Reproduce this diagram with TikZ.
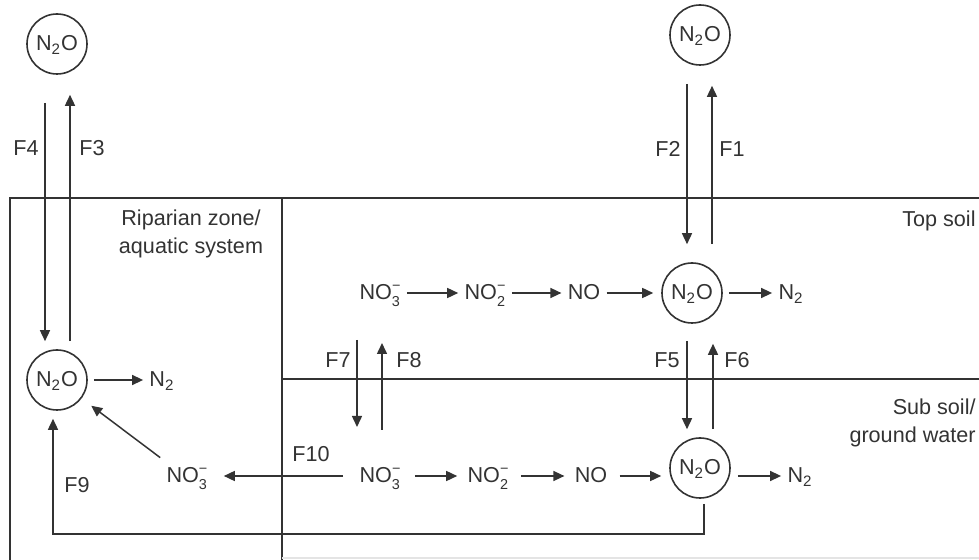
\documentclass[tikz,border=0pt]{standalone}
\usepackage{fontspec}
\setmainfont{Liberation Sans}
\usepackage{xcolor}
\usepackage{tikz}
\usetikzlibrary{arrows.meta,positioning,calc}
\definecolor{SoilInk}{HTML}{333333}
\definecolor{SoilFaint}{HTML}{E4E4E4}
\newcommand{\ionNO}[1]{NO\raisebox{-0.3em}{\fontsize{7.2}{8.2}\selectfont\begin{tabular}[b]{@{}l@{}}−\\#1\end{tabular}}}
\newcommand{\nitrous}{N\textsubscript{2}O}
\newcommand{\dinitrogen}{N\textsubscript{2}}

\begin{document}
\begin{tikzpicture}[
  x=0.5pt, y=-0.5pt,
  font=\fontsize{10.8}{14}\selectfont,
  every node/.style={text=SoilInk},
  species/.style={inner sep=3pt, text height=0.95em, text depth=0.25em},
  pool/.style={circle, draw=SoilInk, line width=0.8pt, minimum size=30pt, inner sep=0pt, text height=0.95em, text depth=0.25em},
  layer/.style={draw=SoilInk, line width=0.8pt},
  flux/.style={inner sep=0pt},
  arrow/.style={-{Triangle[length=5.5pt,width=5pt]}, draw=SoilInk, line width=0.75pt}
]
  \useasboundingbox (0,0) rectangle (979,560);

  % compartments
  \draw[layer] (10,560) -- (10,198) -- (979,198);
  \draw[layer] (282,560) -- (282,198);
  \draw[layer] (282,379) -- (979,379);
  \draw[SoilFaint, line width=0.75pt] (282,558) -- (979,558);

  \node[align=center] (riparian) at (191,234) {Riparian zone/\\aquatic system};
  \node[anchor=east, inner sep=0pt] (topsoil) at (976,221) {Top soil};
  \node[anchor=east, align=right, inner sep=0pt] (subsoil) at (976,423) {Sub soil/\\ground water};

  % atmosphere
  \node[pool] (airL) at (57,44) {\nitrous};
  \node[pool] (airR) at (700,35) {\nitrous};

  % top soil chain
  \node[species] (no3T) at (380,293) {\ionNO{3}};
  \node[species] (no2T) at (485,293) {\ionNO{2}};
  \node[species] (noT) at (584,293) {NO};
  \node[pool] (n2oT) at (692,293) {\nitrous};
  \node[species] (n2T) at (791,293) {\dinitrogen};

  % sub soil chain
  \node[species] (no3B) at (380,476) {\ionNO{3}};
  \node[species] (no2B) at (488,476) {\ionNO{2}};
  \node[species] (noB) at (591,476) {NO};
  \node[pool] (n2oB) at (700,468) {\nitrous};
  \node[species] (n2B) at (800,476) {\dinitrogen};

  % riparian zone
  \node[pool] (n2oL) at (57,380) {\nitrous};
  \node[species] (n2L) at (162,380) {\dinitrogen};
  \node[species] (no3L) at (187,476) {\ionNO{3}};

  \draw[arrow] (no3T) -- (no2T);
  \draw[arrow] (no2T) -- (noT);
  \draw[arrow, shorten >=4pt] (noT) -- (n2oT);
  \draw[arrow, shorten <=3pt] (n2oT) -- (n2T);

  \draw[arrow, shorten <=4pt, shorten >=2pt] (no3B) -- (no2B);
  \draw[arrow, shorten <=3pt, shorten >=2pt] (no2B) -- (noB);
  \draw[arrow, shorten <=3pt, shorten >=4pt] (noB) -- (noB -| n2oB.west);
  \draw[arrow, shorten <=3.5pt] (n2oB.east |- n2B) -- (n2B);

  \draw[arrow, shorten <=3pt] (n2oL) -- (n2L);
  \draw[arrow, shorten >=6pt] (no3L.north west) -- (n2oL);

  % exchange fluxes
  \draw[arrow] ([xshift=-6pt,yshift=-14pt]airL.south) -- ([xshift=-6pt,yshift=4pt]n2oL.north);
  \draw[arrow] ([xshift=6.5pt,yshift=4pt]n2oL.north) -- ([xshift=6.5pt,yshift=-10pt]airL.south);
  \draw[arrow] ([xshift=-6.5pt,yshift=-9pt]airR.south) -- ([xshift=-2.5pt,yshift=9pt]n2oT.north);
  \draw[arrow] ([xshift=10pt,yshift=9pt]n2oT.north) -- ([xshift=6pt,yshift=-10pt]airR.south);
  \draw[arrow] ([xshift=-2.5pt,yshift=-8.5pt]n2oT.south) -- ([xshift=-6.5pt,yshift=4pt]n2oB.north);
  \draw[arrow] ([xshift=6.5pt,yshift=4pt]n2oB.north) -- ([xshift=10.5pt,yshift=-10pt]n2oT.south);
  \draw[arrow] ([xshift=-11.5pt,yshift=-23.5pt]no3T.center) -- ([xshift=-11.5pt,yshift=24.5pt]no3B.center);
  \draw[arrow] ([xshift=1pt,yshift=23pt]no3B.center) -- ([xshift=1pt,yshift=-25pt]no3T.center);
  \draw[arrow, shorten <=5pt, shorten >=5pt] (no3B) -- (no3L);
  \draw[arrow] ([xshift=2pt,yshift=-2.5pt]n2oB.south) -- ++(0,30) -| ([xshift=-2pt,yshift=-4pt]n2oL.south);

  \node[flux] (f1) at (732,149) {F1};
  \node[flux] (f2) at (668,149) {F2};
  \node[flux] (f3) at (92,148) {F3};
  \node[flux] (f4) at (26,148) {F4};
  \node[flux] (f5) at (667,360) {F5};
  \node[flux] (f6) at (737,360) {F6};
  \node[flux] (f7) at (338,360) {F7};
  \node[flux] (f8) at (409,360) {F8};
  \node[flux] (f9) at (77,485) {F9};
  \node[flux] (f10) at (311,454) {F10};
\end{tikzpicture}
\end{document}
